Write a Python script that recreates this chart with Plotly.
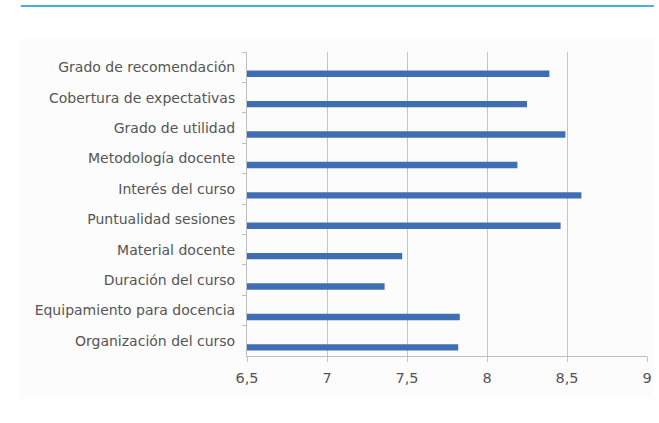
import plotly.graph_objects as go

# Valoración media por aspecto del curso (escala 0-10)
categorias = [
    "Grado de recomendación",
    "Cobertura de expectativas",
    "Grado de utilidad",
    "Metodología docente",
    "Interés del curso",
    "Puntualidad sesiones",
    "Material docente",
    "Duración del curso",
    "Equipamiento para docencia",
    "Organización del curso",
]
valores = [8.39, 8.25, 8.49, 8.19, 8.59, 8.46, 7.47, 7.36, 7.83, 7.82]

tick_vals = [6.5, 7, 7.5, 8, 8.5, 9]
tick_text = ["6,5", "7", "7,5", "8", "8,5", "9"]

W, H = 659, 423
L, R, T, B = 247, 7, 52, 67
pw, ph = W - L - R, H - T - B


def px_x(x):
    return (x - L) / pw


def px_y(y):
    return (H - B - y) / ph


base = tick_vals[0]

fig = go.Figure(
    go.Bar(
        x=[v - base for v in valores],
        y=categorias,
        orientation="h",
        base=base,
        width=0.21,
        offset=0.11,
        marker=dict(color="#3f6eb4", line=dict(width=0)),
        customdata=valores,
        hovertemplate="%{y}: %{customdata}<extra></extra>",
    )
)

font_family = "DejaVu Sans, Verdana, sans-serif"

fig.update_layout(
    width=W,
    height=H,
    margin=dict(l=L, r=R, t=T, b=B),
    paper_bgcolor="white",
    plot_bgcolor="rgba(0,0,0,0)",
    showlegend=False,
    separators=",.",
    font=dict(family=font_family, size=14, color="#5a5a5a"),
    xaxis=dict(
        range=[6.5, 9],
        tickvals=tick_vals,
        ticktext=tick_text,
        showgrid=True,
        gridcolor="#c4c4c4",
        gridwidth=1,
        showline=True,
        linecolor="#bdbdbd",
        linewidth=1,
        ticks="outside",
        ticklen=5,
        tickcolor="#c4c4c4",
        zeroline=False,
        ticklabelstandoff=4,
        tickfont=dict(size=14.5, color="#555555"),
        fixedrange=True,
    ),
    yaxis=dict(
        type="category",
        categoryorder="array",
        categoryarray=categorias,
        autorange="reversed",
        tickson="boundaries",
        ticks="outside",
        ticklen=4,
        tickcolor="#bdbdbd",
        showline=True,
        linecolor="#bdbdbd",
        linewidth=1,
        showgrid=False,
        ticklabelstandoff=8,
        tickfont=dict(size=14, color="#555555"),
        fixedrange=True,
    ),
    shapes=[
        dict(
            type="rect", xref="paper", yref="paper", layer="below",
            x0=px_x(17), x1=px_x(659), y0=px_y(398), y1=px_y(38),
            fillcolor="#fcfcfc", line=dict(width=0),
        ),
        dict(
            type="line", xref="paper", yref="paper",
            x0=px_x(18), x1=px_x(659), y0=px_y(6), y1=px_y(6),
            line=dict(color="#0a96d8", width=1.5),
        ),
    ],
)

fig.write_html("out.html")
